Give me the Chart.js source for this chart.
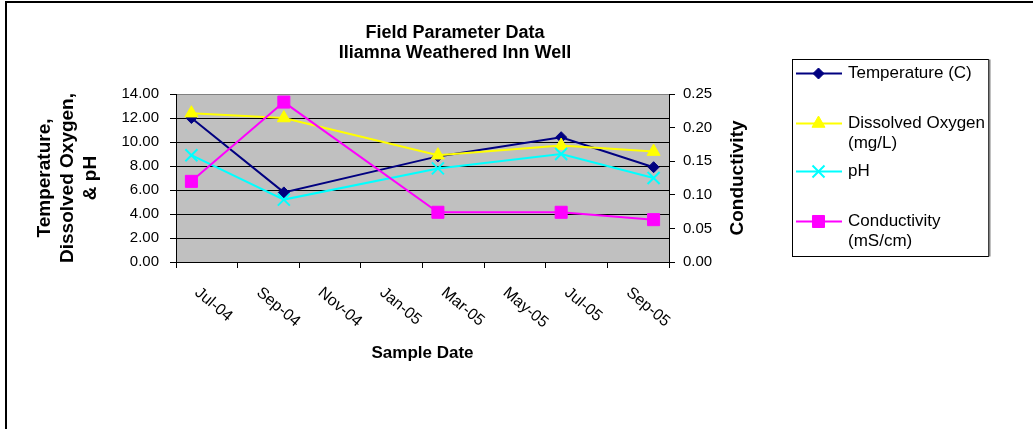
<!DOCTYPE html>
<html>
<head>
<meta charset="utf-8">
<title>Field Parameter Data</title>
<script src="https://cdn.jsdelivr.net/npm/chart.js@4.4.1/dist/chart.umd.min.js"></script>
<style>
  html, body { margin: 0; padding: 0; background: #fff; }
  #wrap { width: 1033px; height: 429px; }
</style>
</head>
<body>
<div id="wrap"><canvas id="chart" width="1033" height="429"></canvas></div>
<script>
// Sample months (YYYY-MM) and field readings
const sampleDates = ['2004-07', '2004-10', '2005-03', '2005-07', '2005-10'];
const temperature = [12.0, 5.8, 8.8, 10.4, 7.9];
const dissolvedOxygen = [12.4, 12.0, 8.9, 9.7, 9.2];
const phValues = [8.9, 5.2, 7.8, 9.0, 7.0];
const conductivity = [0.120, 0.238, 0.074, 0.074, 0.063];

// Axis text
const monthLabels = ['Jul-04', 'Sep-04', 'Nov-04', 'Jan-05', 'Mar-05', 'May-05', 'Jul-05', 'Sep-05'];
const titleLines = ['Field Parameter Data', 'Iliamna Weathered Inn Well'];
const leftAxisTitle = ['Temperature,', 'Dissolved Oxygen,', '& pH'];
const rightAxisTitle = 'Conductivity';
const xAxisTitle = 'Sample Date';
const legendLabels = [['Temperature (C)'], ['Dissolved Oxygen', '(mg/L)'], ['pH'], ['Conductivity', '(mS/cm)']];

const FONT = '"Liberation Sans", Arial, Helvetica, sans-serif';
Chart.defaults.font.family = FONT;
Chart.defaults.color = '#000';

// months counted from Jul-04, each month is one band, point sits mid-band
function monthOffset(str) {
    const [y, m] = str.split('-').map(Number);
    return (y - 2004) * 12 + (m - 7) + 0.5;
}
const toPoints = (vals) => vals.map((v, i) => ({ x: monthOffset(sampleDates[i]), y: v }));

/* --- small drawing plugins --- */
const frameAndTitle = {
    id: 'frameAndTitle',
    beforeDraw(chart) {
        const { ctx, chartArea: a } = chart;
        ctx.save();
        ctx.fillStyle = '#fff';
        ctx.fillRect(0, 0, chart.width, chart.height);
        // gray plot area
        ctx.fillStyle = '#c0c0c0';
        ctx.fillRect(a.left, a.top, a.right - a.left, a.bottom - a.top);
        // outer chart border (runs off the right / bottom edge)
        ctx.strokeStyle = '#000';
        ctx.lineWidth = 2;
        ctx.beginPath();
        ctx.moveTo(6, chart.height + 2);
        ctx.lineTo(6, 2);
        ctx.lineTo(chart.width + 2, 2);
        ctx.stroke();
        ctx.restore();
    },
    afterDraw(chart) {
        const { ctx } = chart;
        ctx.save();
        ctx.fillStyle = '#000';
        ctx.textAlign = 'center';
        ctx.textBaseline = 'middle';
        ctx.font = 'bold 18px ' + FONT;
        titleLines.forEach((t, i) => ctx.fillText(t, 455, 33 + i * 20));

        // right axis title reads bottom to top
        ctx.font = 'bold 19px ' + FONT;
        ctx.translate(738, (chart.chartArea.top + chart.chartArea.bottom) / 2);
        ctx.rotate(-Math.PI / 2);
        ctx.fillText(rightAxisTitle, 0, 0);
        ctx.restore();
    }
};

// slanted month labels under the date axis
const slantedLabels = {
    id: 'slantedLabels',
    afterDraw(chart) {
        const { ctx } = chart;
        const xs = chart.scales.x;
        ctx.save();
        ctx.font = '16px ' + FONT;
        ctx.fillStyle = '#000';
        ctx.textAlign = 'left';
        ctx.textBaseline = 'alphabetic';
        monthLabels.forEach((lab, i) => {
            const px = xs.getPixelForValue(i * 2);
            ctx.save();
            ctx.translate(px + 18, chart.chartArea.bottom + 32);
            ctx.rotate(40 * Math.PI / 180);
            ctx.fillText(lab, 0, 0);
            ctx.restore();
        });
        ctx.restore();
    }
};

// boxed legend on the right, markers drawn with the chart's own point helper
const boxLegend = {
    id: 'boxLegend',
    afterDraw(chart) {
        const { ctx } = chart;
        const box = { l: 792.5, t: 59.5, r: 988.5, b: 256.5 };
        ctx.save();
        ctx.strokeStyle = '#000';
        ctx.lineWidth = 1;
        ctx.strokeRect(box.l, box.t, box.r - box.l, box.b - box.t);
        ctx.strokeStyle = '#808080';
        ctx.lineWidth = 2;
        ctx.beginPath();
        ctx.moveTo(box.r + 1, box.t);
        ctx.lineTo(box.r + 1, box.b);
        ctx.stroke();

        ctx.font = '17px ' + FONT;
        ctx.textAlign = 'left';
        ctx.textBaseline = 'middle';
        const rows = [73.5, 123.5, 171.5, 221.5];
        chart.data.datasets.forEach((ds, i) => {
            const y = rows[i];
            ctx.strokeStyle = ds.borderColor;
            ctx.lineWidth = ds.borderWidth;
            ctx.beginPath();
            ctx.moveTo(796, y);
            ctx.lineTo(842, y);
            ctx.stroke();
            ctx.fillStyle = ds.pointBackgroundColor;
            ctx.strokeStyle = ds.pointBorderColor;
            ctx.lineWidth = ds.pointBorderWidth;
            Chart.helpers.drawPoint(ctx, {
                pointStyle: ds.pointStyle, rotation: 0,
                radius: ds.pointRadius, borderWidth: ds.pointBorderWidth
            }, 818.5, y);
            ctx.fillStyle = '#000';
            legendLabels[i].forEach((line, k) => ctx.fillText(line, 848, y + k * 20));
        });
        ctx.restore();
    }
};

function series(label, values, color, style, radius, axis, order, borderW) {
    return {
        label: label,
        data: toPoints(values),
        yAxisID: axis,
        order: order,
        borderColor: color,
        backgroundColor: color,
        borderWidth: 2,
        pointStyle: style,
        pointRadius: radius,
        pointHoverRadius: radius,
        pointBackgroundColor: color,
        pointBorderColor: color,
        pointBorderWidth: borderW,
        tension: 0,
        fill: false
    };
}

new Chart(document.getElementById('chart'), {
    type: 'line',
    data: {
        datasets: [
            series(legendLabels[0].join(' '), temperature, '#000080', 'rectRot', 5.5, 'y', 3, 1),
            series(legendLabels[1].join(' '), dissolvedOxygen, '#ffff00', 'triangle', 7.5, 'y', 2, 1),
            series(legendLabels[2].join(' '), phValues, '#00ffff', 'crossRot', 8.5, 'y', 1, 2),
            series(legendLabels[3].join(' '), conductivity, '#ff00ff', 'rect', 8.5, 'y2', 0, 1)
        ]
    },
    options: {
        responsive: false,
        animation: false,
        devicePixelRatio: 1,
        layout: { padding: { left: 20, right: 304, top: 94, bottom: 65 } },
        plugins: {
            legend: { display: false },
            title: { display: false },
            tooltip: { enabled: false }
        },
        scales: {
            x: {
                type: 'linear',
                min: 0,
                max: 16,
                ticks: { stepSize: 2, display: false },
                grid: { drawOnChartArea: false, drawTicks: true, tickLength: 6, color: '#000' },
                border: { color: '#000', width: 1 },
                title: {
                    display: true, text: xAxisTitle,
                    font: { size: 17, weight: 'bold', lineHeight: 1.2 },
                    padding: { top: 0, bottom: 0 }
                },
                afterFit(scale) { scale.height = 102; }
            },
            y: {
                position: 'left',
                min: 0,
                max: 14,
                ticks: {
                    stepSize: 2, padding: 11,
                    font: { size: 15 },
                    callback: (v) => Number(v).toFixed(2)
                },
                grid: {
                    color: (c) => (c.tick && c.tick.value === 14 ? '#808080' : '#000'),
                    tickColor: '#000', tickLength: 6, lineWidth: 1
                },
                border: { color: '#000', width: 1 },
                title: {
                    display: true, text: leftAxisTitle,
                    font: { size: 19, weight: 'bold', lineHeight: 1.2 },
                    padding: { top: 13.6, bottom: 0 }
                },
                afterFit(scale) { scale.width = 156; }
            },
            y2: {
                position: 'right',
                min: 0,
                max: 0.25,
                ticks: {
                    stepSize: 0.05, padding: 8,
                    font: { size: 15 },
                    callback: (v) => Number(v).toFixed(2)
                },
                grid: { drawOnChartArea: false, tickLength: 6, color: '#000' },
                border: { color: '#000', width: 1 },
                afterFit(scale) { scale.width = 60; }
            }
        }
    },
    plugins: [frameAndTitle, slantedLabels, boxLegend]
});
</script>
</body>
</html>
